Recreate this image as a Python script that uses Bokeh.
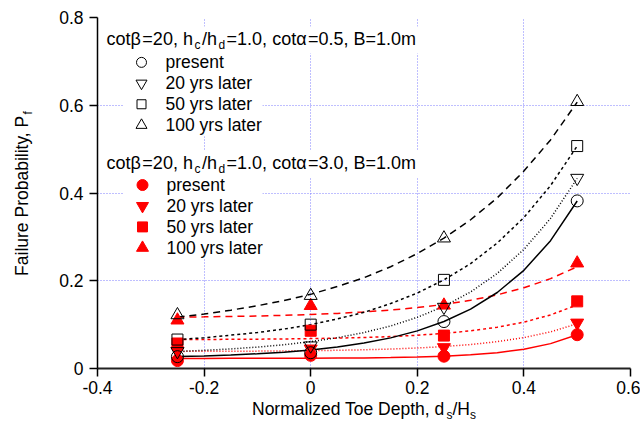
import math
from bokeh.plotting import figure
from bokeh.layouts import row, column
from bokeh.models import Range1d, FixedTicker, Label, BoxAnnotation
from bokeh.core.properties import value
from bokeh.embed import file_html
from bokeh.resources import INLINE

# ---------------- data ----------------
toe_depth = [-0.25, 0.0, 0.25, 0.5]
series_names = ["present", "20 yrs later", "50 yrs later", "100 yrs later"]

# cot(alpha) = 0.5  (open markers, black)
pf_a05_present = [0.027, 0.036, 0.107, 0.382]
pf_a05_20yrs = [0.039, 0.052, 0.140, 0.434]
pf_a05_50yrs = [0.066, 0.100, 0.202, 0.507]
pf_a05_100yrs = [0.122, 0.166, 0.297, 0.608]

# cot(alpha) = 3.0  (filled markers, red)
pf_a30_present = [0.018, 0.030, 0.028, 0.077]
pf_a30_20yrs = [0.040, 0.045, 0.048, 0.104]
pf_a30_50yrs = [0.057, 0.086, 0.075, 0.153]
pf_a30_100yrs = [0.110, 0.143, 0.144, 0.240]

# trend curves
curve_x = [-0.25, -0.2, -0.15, -0.1, -0.05, 0.0, 0.05, 0.1, 0.15, 0.2, 0.25, 0.3, 0.35, 0.4, 0.45, 0.5]
fit_a05_present = [0.0271, 0.0287, 0.0308, 0.0336, 0.0373, 0.0423, 0.0490, 0.0579, 0.0698, 0.0857, 0.1070, 0.1353, 0.1732, 0.2238, 0.2914, 0.3818]
fit_a05_20yrs = [0.0389, 0.0414, 0.0446, 0.0488, 0.0542, 0.0612, 0.0702, 0.0819, 0.0970, 0.1166, 0.1418, 0.1745, 0.2167, 0.2714, 0.3420, 0.4334]
fit_a05_50yrs = [0.066, 0.070, 0.076, 0.082, 0.090, 0.100, 0.113, 0.128, 0.148, 0.172, 0.202, 0.239, 0.286, 0.344, 0.417, 0.507]
fit_a05_100yrs = [0.117, 0.124, 0.133, 0.143, 0.155, 0.169, 0.187, 0.207, 0.232, 0.262, 0.297, 0.339, 0.389, 0.450, 0.521, 0.607]
fit_a30_present = [0.0230, 0.0230, 0.0231, 0.0231, 0.0232, 0.0234, 0.0237, 0.0242, 0.0249, 0.0261, 0.0280, 0.0311, 0.0360, 0.0439, 0.0567, 0.0771]
fit_a30_20yrs = [0.0390, 0.0391, 0.0393, 0.0396, 0.0400, 0.0406, 0.0415, 0.0427, 0.0443, 0.0467, 0.0500, 0.0546, 0.0612, 0.0705, 0.0835, 0.1020]
fit_a30_50yrs = [0.0660, 0.0662, 0.0665, 0.0668, 0.0674, 0.0681, 0.0692, 0.0707, 0.0728, 0.0758, 0.0800, 0.0859, 0.0941, 0.1057, 0.1221, 0.1450]
fit_a30_100yrs = [0.1170, 0.1177, 0.1186, 0.1197, 0.1212, 0.1231, 0.1256, 0.1289, 0.1332, 0.1388, 0.1460, 0.1555, 0.1678, 0.1839, 0.2048, 0.2320]

x_ticks = [-0.4, -0.2, 0.0, 0.2, 0.4, 0.6]
x_tick_labels = ["-0.4", "-0.2", "0", "0.2", "0.4", "0.6"]
y_ticks = [0.0, 0.2, 0.4, 0.6, 0.8]
y_tick_labels = ["0", "0.2", "0.4", "0.6", "0.8"]

x_title = "Normalized Toe Depth, d"
y_title = "Failure Probability, P"

# ---------------- layout (page pixels) ----------------
XR = (-0.4, 0.6)
YR = (0.0, 0.8)
FX0, FX1, FY0, FY1 = 97, 630, 17, 369   # plot frame on the page
FONT = "Liberation Sans"
FS = 17.5
HFS = 18.0
SUB = 12.0
TOTAL_W, TOTAL_H = 640, 436
LEFT_W = 36            # strip holding the y title
MAIN_H = 396           # main figure height; strip below holds the x title
MAIN_W = TOTAL_W - LEFT_W

p = figure(width=MAIN_W, height=MAIN_H, output_backend="svg", toolbar_location=None,
           x_range=Range1d(*XR), y_range=Range1d(*YR),
           min_border_left=FX0 - LEFT_W, min_border_right=TOTAL_W - FX1,
           min_border_top=FY0, min_border_bottom=MAIN_H - FY1)
p.outline_line_color = None
p.background_fill_color = "white"
p.border_fill_color = "white"


def px2x(px):
    return XR[0] + (px - FX0) * (XR[1] - XR[0]) / (FX1 - FX0)


def py2y(py):
    return YR[0] + (FY1 - py) * (YR[1] - YR[0]) / (FY1 - FY0)


# axes
p.xaxis.ticker = FixedTicker(ticks=x_ticks)
p.yaxis.ticker = FixedTicker(ticks=y_ticks)
p.xaxis.major_label_overrides = {t: l for t, l in zip(x_ticks, x_tick_labels)}
p.yaxis.major_label_overrides = {t: l for t, l in zip(y_ticks, y_tick_labels)}
for ax in (p.xaxis, p.yaxis):
    ax.axis_line_color = "black"
    ax.major_tick_line_color = "black"
    ax.major_tick_line_width = 1.5
    ax.major_tick_in = 0
    ax.major_tick_out = 8
    ax.minor_tick_line_color = None
    ax.major_label_text_font = FONT
    ax.major_label_text_font_size = f"{FS}px"
    ax.major_label_text_color = "black"
p.xaxis.axis_line_width = 2
p.xaxis.axis_line_color = "#222222"
p.yaxis.axis_line_width = 1.5
p.xaxis.major_label_standoff = 4
p.yaxis.major_label_standoff = 6

for g in (p.xgrid, p.ygrid):
    g.grid_line_color = "#7f7fff"
    g.grid_line_dash = "1 2"
    g.grid_line_width = 1
p.xgrid.ticker = FixedTicker(ticks=x_ticks)
p.ygrid.ticker = FixedTicker(ticks=y_ticks)


# white boxes behind the key
def white_box(l, r, t, b):
    p.add_layout(BoxAnnotation(left=px2x(l), right=px2x(r), top=py2y(t), bottom=py2y(b),
                               fill_color="white", fill_alpha=1.0, line_color=None,
                               level="underlay"))


white_box(100, 426, 26, 53)
white_box(123, 262, 52, 136)
white_box(100, 426, 150, 177)
white_box(123, 262, 175, 259)

# curves
dashes = ["solid", "1 2", "3 3", "7 5"]
red_fits = [fit_a30_present, fit_a30_20yrs, fit_a30_50yrs, fit_a30_100yrs]
blk_fits = [fit_a05_present, fit_a05_20yrs, fit_a05_50yrs, fit_a05_100yrs]
for ys, d in zip(red_fits, dashes):
    p.line(curve_x, ys, line_color="red", line_width=1.5, line_dash=d)
for ys, d in zip(blk_fits, dashes):
    p.line(curve_x, ys, line_color="black", line_width=1.5, line_dash=d)

markers = ["circle", "inverted_triangle", "square", "triangle"]
msize = [12, 13, 11, 13]
red_pts = [pf_a30_present, pf_a30_20yrs, pf_a30_50yrs, pf_a30_100yrs]
blk_pts = [pf_a05_present, pf_a05_20yrs, pf_a05_50yrs, pf_a05_100yrs]
for ys, m, s in zip(red_pts, markers, msize):
    p.scatter(toe_depth, ys, marker=m, size=s, fill_color="red", line_color="red")
for ys, m, s in zip(blk_pts, markers, msize):
    p.scatter(toe_depth, ys, marker=m, size=s, fill_color=None, line_color="black", line_width=1)

# text helpers
W1000 = {' ': 278, ',': 278, '.': 278, '/': 278, '=': 584, '-': 333,
         'B': 667, 'D': 722, 'F': 611, 'H': 722, 'N': 722, 'P': 667, 'T': 611,
         'a': 556, 'b': 556, 'c': 500, 'd': 556, 'e': 556, 'f': 278, 'h': 556,
         'i': 222, 'l': 222, 'm': 833, 'n': 556, 'o': 556, 'p': 556, 'r': 333,
         's': 500, 't': 278, 'u': 556, 'y': 500, 'z': 500, 'β': 575, 'α': 578}


def tw(s, size):
    return sum(W1000.get(ch, 556) for ch in s) * size / 1000.0


def key_label(px, py, txt, size):
    p.add_layout(Label(x=px2x(px), y=py2y(py), text=txt,
                       text_font=FONT, text_font_size=f"{size}px",
                       text_baseline="middle", text_align="left", text_color="black"))


def hrich(pieces, x0, yc, fs=FS, gap=0.0):
    x = x0
    for txt, sub in pieces:
        size = SUB if sub else fs
        key_label(x, yc + (6 if sub else 0), txt, size)
        x += tw(txt, size) + gap


# key
header1 = [("cotβ", False), ("=20, h", False), ("c", True), ("/h", False), ("d", True),
           ("=1.0, cotα", False), ("=0.5, B=1.0m", False)]
header2 = [("cotβ", False), ("=20, h", False), ("c", True), ("/h", False), ("d", True),
           ("=1.0, cotα", False), ("=3.0, B=1.0m", False)]
hrich(header1, 106, 39, fs=HFS, gap=1.5)
hrich(header2, 106, 163, fs=HFS, gap=1.5)
rows1 = [62, 83, 104, 125]
rows2 = [185, 206, 227, 248]
lsize = [10, 11, 9, 11]
for name, m, s, yc in zip(series_names, markers, lsize, rows1):
    p.scatter([px2x(141)], [py2y(yc)], marker=m, size=s, fill_color=None, line_color="black", line_width=1)
    hrich([(name, False)], 165, yc)
for name, m, s, yc in zip(series_names, markers, msize, rows2):
    p.scatter([px2x(142)], [py2y(yc)], marker=m, size=s - 1, fill_color="red", line_color="red")
    hrich([(name, False)], 166, yc)


# ---------------- strips holding the axis titles ----------------
def strip(w, h, xr, yr):
    f = figure(width=w, height=h, output_backend="svg", toolbar_location=None,
               x_range=Range1d(*xr), y_range=Range1d(*yr),
               x_axis_location=None, y_axis_location=None,
               min_border_left=0, min_border_right=0, min_border_top=0, min_border_bottom=0)
    f.outline_line_color = None
    f.grid.visible = False
    f.background_fill_color = "white"
    f.border_fill_color = "white"
    return f


# left strip: its own pixel coordinates (y downwards)
left_strip = strip(LEFT_W, TOTAL_H, (0, LEFT_W), (TOTAL_H, 0))
# bottom strip: its frame lines up with the main frame, so share the x scale
bottom_strip = strip(MAIN_W, TOTAL_H - MAIN_H, XR, (TOTAL_H, MAIN_H))


def strip_text(f, x, y, txt, size, angle=0.0):
    f.text(x=[x], y=[y], text=[txt], angle=angle, text_font=value(FONT),
           text_font_size=value(f"{size}px"), text_color="black",
           text_align="left", text_baseline="middle")


# x title, centred under the frame
xt = [(x_title, False), ("s", True), ("/H", False), ("s", True)]
xw = sum(tw(t, SUB if s else FS) for t, s in xt)
cx = (FX0 + FX1) / 2 - xw / 2
for txt, sub in xt:
    size = SUB if sub else FS
    strip_text(bottom_strip, px2x(cx), 408 + (6 if sub else 0), txt, size)
    cx += tw(txt, size)

# y title, rotated, centred beside the frame
yt = [(y_title, False), ("f", True)]
yw = sum(tw(t, SUB if s else FS) for t, s in yt)
cy = (FY0 + FY1) / 2 + yw / 2
for txt, sub in yt:
    size = SUB if sub else FS
    strip_text(left_strip, 21 + (6 if sub else 0), cy, txt, size, angle=math.pi / 2)
    cy -= tw(txt, size)

layout = row(left_strip, column(p, bottom_strip, spacing=0), spacing=0)
open("out.html", "w").write(file_html(layout, INLINE))
